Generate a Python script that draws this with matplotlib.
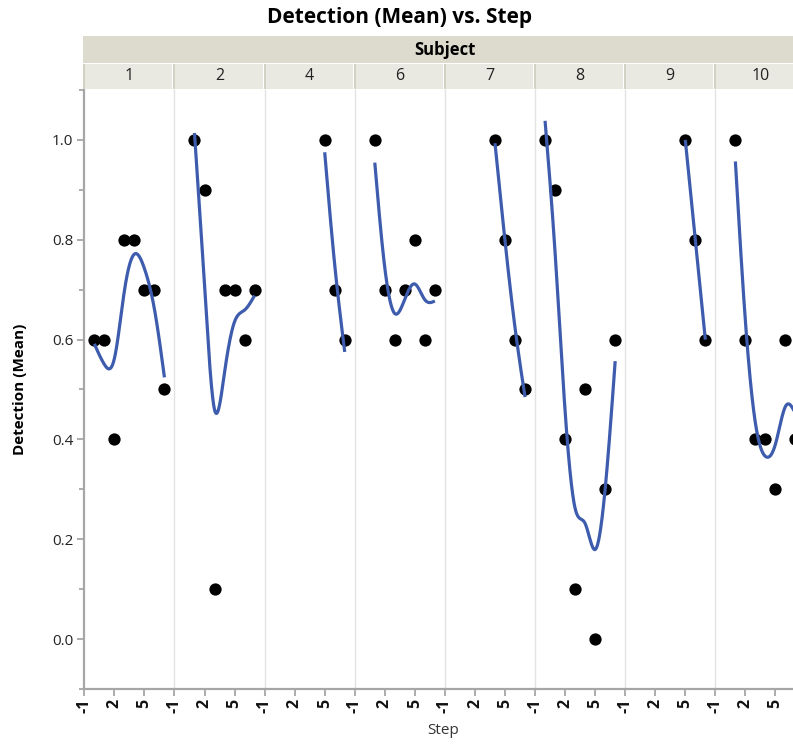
import numpy as np
import matplotlib
matplotlib.use("Agg")
import matplotlib.pyplot as plt
from matplotlib.patches import Rectangle

plt.rcParams['font.family'] = ['Open Sans', 'DejaVu Sans']

# ---- data ----
subjects = ['1', '2', '4', '6', '7', '8', '9', '10']
steps_1 = [0, 1, 2, 3, 4, 5, 6, 7]
det_1 = [0.6, 0.6, 0.4, 0.8, 0.8, 0.7, 0.7, 0.5]
steps_2 = [1, 2, 3, 4, 5, 6, 7]
det_2 = [1.0, 0.9, 0.1, 0.7, 0.7, 0.6, 0.7]
steps_4 = [5, 6, 7]
det_4 = [1.0, 0.7, 0.6]
steps_6 = [1, 2, 3, 4, 5, 6, 7]
det_6 = [1.0, 0.7, 0.6, 0.7, 0.8, 0.6, 0.7]
steps_7 = [4, 5, 6, 7]
det_7 = [1.0, 0.8, 0.6, 0.5]
steps_8 = [0, 1, 2, 3, 4, 5, 6, 7]
det_8 = [1.0, 0.9, 0.4, 0.1, 0.5, 0.0, 0.3, 0.6]
steps_9 = [5, 6, 7]
det_9 = [1.0, 0.8, 0.6]
steps_10 = [1, 2, 3, 4, 5, 6, 7]
det_10 = [1.0, 0.6, 0.4, 0.4, 0.3, 0.6, 0.4]

series = [(steps_1, det_1), (steps_2, det_2), (steps_4, det_4), (steps_6, det_6),
          (steps_7, det_7), (steps_8, det_8), (steps_9, det_9), (steps_10, det_10)]
x_ticks = [-1, 2, 5]
y_ticks = [0.0, 0.2, 0.4, 0.6, 0.8, 1.0]

SMOOTH = 0.32


def smoothing_spline(x, y, alpha, num=300):
    """Natural cubic smoothing spline (Reinsch / Green & Silverman)."""
    x = np.asarray(x, float)
    y = np.asarray(y, float)
    n = len(x)
    h = np.diff(x)
    Q = np.zeros((n, n - 2))
    R = np.zeros((n - 2, n - 2))
    for j in range(1, n - 1):
        Q[j - 1, j - 1] = 1 / h[j - 1]
        Q[j, j - 1] = -1 / h[j - 1] - 1 / h[j]
        Q[j + 1, j - 1] = 1 / h[j]
        R[j - 1, j - 1] = (h[j - 1] + h[j]) / 3
        if j < n - 2:
            R[j - 1, j] = R[j, j - 1] = h[j] / 6
    K = Q @ np.linalg.solve(R, Q.T)
    g = np.linalg.solve(np.eye(n) + alpha * K, y)
    gam = np.zeros(n)
    gam[1:-1] = np.linalg.solve(R, Q.T @ g)
    xs = np.linspace(x[0], x[-1], num)
    idx = np.clip(np.searchsorted(x, xs, side='right') - 1, 0, n - 2)
    xl, xr = x[idx], x[idx + 1]
    hh = xr - xl
    dl = xs - xl
    dr = xr - xs
    ys = (dl * g[idx + 1] + dr * g[idx]) / hh - dl * dr / 6 * (
        (1 + dl / hh) * gam[idx + 1] + (1 + dr / hh) * gam[idx])
    return xs, ys


W, H = 793, 746
fig = plt.figure(figsize=(W / 100, H / 100), dpi=100)


def fx(px):
    return px / W


def fy(py):
    return 1 - py / H


left = 84.3
pw = 90.15
top = 90
bottom = 689
axis_gray = '#A6A6A6'
line_blue = '#3D5CAD'

# title
fig.text(fx(400), fy(18), 'Detection (Mean) vs. Step', ha='center', va='center',
         fontsize=15, fontweight='bold')

# header band
full_right = left + pw * len(subjects)
fig.patches.append(Rectangle((fx(left - 1), fy(63)), fx(full_right - left + 2), (63 - 36) / H,
                             transform=fig.transFigure, facecolor='#DCDBCD',
                             edgecolor='none', zorder=0))
fig.text(fx((left + full_right) / 2), fy(50), 'Subject', ha='center', va='center',
         fontsize=12, fontweight='bold')

for i, s in enumerate(subjects):
    x0 = left + i * pw
    fig.patches.append(Rectangle((fx(x0 + 1), fy(89)), fx(pw - 3), (89 - 64) / H,
                                 transform=fig.transFigure, facecolor='#E9E8E1',
                                 edgecolor='none', zorder=0))
    fig.patches.append(Rectangle((fx(x0 - 1), fy(89)), fx(2), (89 - 64) / H,
                                 transform=fig.transFigure, facecolor='#D2D1C4',
                                 edgecolor='none', zorder=0))
    fig.text(fx(x0 + pw / 2), fy(76.5), s, ha='center', va='center', fontsize=11.5,
             color='#222222')

for i, (st, dv) in enumerate(series):
    x0 = left + i * pw
    ax = fig.add_axes([fx(x0), fy(bottom), pw / W, (bottom - top) / H])
    ax.set_xlim(-1, 8)
    ax.set_ylim(-0.1, 1.1)
    ax.patch.set_alpha(0)
    for sp in ['top', 'right']:
        ax.spines[sp].set_visible(False)
    ax.spines['bottom'].set_color(axis_gray)
    ax.spines['bottom'].set_linewidth(1.6)
    if i == 0:
        ax.spines['left'].set_color(axis_gray)
        ax.spines['left'].set_linewidth(1.6)
        ax.set_yticks(y_ticks)
        ax.set_yticklabels([f'{v:.1f}' for v in y_ticks])
        ax.set_yticks(np.arange(-0.1, 1.11, 0.2).round(1), minor=True)
        ax.tick_params(axis='y', which='major', length=5, width=1.3, color=axis_gray,
                       labelsize=11, pad=3, labelcolor='#222222')
        ax.tick_params(axis='y', which='minor', length=3.5, width=1.3, color=axis_gray)
    else:
        ax.spines['left'].set_color('#E2E2E2')
        ax.spines['left'].set_linewidth(1.0)
        ax.set_yticks([])
    ax.set_xticks(x_ticks)
    ax.set_xticklabels([str(v) for v in x_ticks], rotation=90, fontweight='bold')
    ax.tick_params(axis='x', length=5, width=1.3, color=axis_gray, labelsize=11.5,
                   pad=2, labelcolor='#111111')

    xs, ys = smoothing_spline(st, dv, SMOOTH)
    ax.scatter(st, dv, s=78, color='black', zorder=3, linewidths=0)
    ax.plot(xs, ys, color=line_blue, lw=2.3, zorder=4, solid_capstyle='butt')

fig.text(fx(20), fy((top + bottom) / 2), 'Detection (Mean)', rotation=90, ha='center',
         va='center', fontsize=11, fontweight='bold')
fig.text(fx(443), fy(731), 'Step', ha='center', va='center', fontsize=11,
         color='#333333')

fig.savefig('out.png', dpi=100)
